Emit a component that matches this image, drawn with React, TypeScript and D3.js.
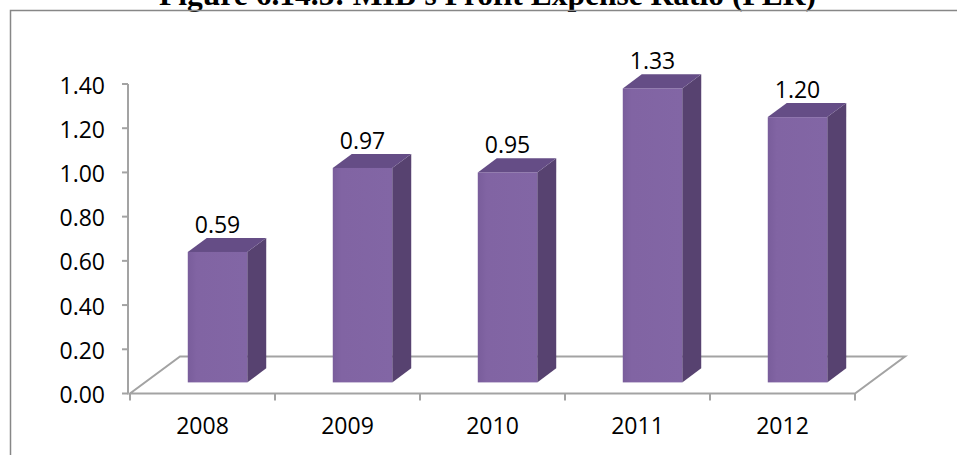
import React from "react";
import * as d3 from "d3";

const title = "Figure 6.14.5: MIB's Profit Expense Ratio (PER)";
const years = ["2008", "2009", "2010", "2011", "2012"];
const values = [0.59, 0.97, 0.95, 1.33, 1.2];
const yTicks = [0, 0.2, 0.4, 0.6, 0.8, 1.0, 1.2, 1.4];

const W = 957;
const H = 455;
const FONT = "'Open Sans', Lato, sans-serif";
const FS = 23;

export default function App() {
  const x = d3
    .scaleBand<string>()
    .domain(years)
    .range([130, 855])
    .paddingInner(0.59)
    .paddingOuter(0.295);
  const step = x.step();
  const y = d3.scaleLinear().domain([0, 1.4]).range([393.5, 84]);

  // depth offsets for the 3D floor
  const depthX = 50;
  const depthY = -37;
  const off = (d: number) => [depthX * d, depthY * d];
  const front = 0.3;
  const back = 0.68;

  const y0 = y(0);
  const [fx, fy] = off(front);
  const [bx, by] = off(back);

  const floorPts = [
    [x.range()[0], y0],
    [x.range()[1], y0],
    [x.range()[1] + depthX, y0 + depthY],
    [x.range()[0] + depthX, y0 + depthY],
  ];

  const catTicks = d3.range(years.length + 1).map((i) => x.range()[0] + i * step);

  const gridColor = "#a3a3a3";

  return (
    <svg
      width={W}
      height={H}
      style={{ position: "absolute", left: 0, top: 0, background: "#fff" }}
    >
      <defs>
        <linearGradient id="frontGrad" x1="0" x2="1" y1="0" y2="0">
          <stop offset="0" stopColor="#795d9b" />
          <stop offset="0.15" stopColor="#8164a3" />
          <stop offset="1" stopColor="#8266a5" />
        </linearGradient>
      </defs>
      {/* title */}
      <text
        x={487.5}
        y={5}
        textAnchor="middle"
        fontFamily="'Liberation Serif', 'Times New Roman', serif"
        fontWeight="bold"
        fontSize={31.5}
        fill="#000"
      >
        {title}
      </text>
      {/* frame */}
      <path d={`M10.5,${H} V10.5 H${W}`} fill="none" stroke="#878787" strokeWidth={1.5} />

      {/* floor */}
      <path
        d={d3.line()(floorPts as [number, number][]) + "Z"}
        fill="none"
        stroke={gridColor}
        strokeWidth={2}
        strokeLinejoin="miter"
      />
      {catTicks.map((t, i) => (
        <line key={"ct" + i} x1={t} x2={t} y1={y0} y2={y0 + 7} stroke={gridColor} strokeWidth={2} />
      ))}

      {/* y axis */}
      <line x1={128} x2={128} y1={y(1.4)} y2={y0} stroke={gridColor} strokeWidth={2} />
      {yTicks.map((t) => (
        <g key={"yt" + t}>
          <line x1={122} x2={128} y1={y(t)} y2={y(t)} stroke={gridColor} strokeWidth={2} />
          <text
            x={105}
            y={y(t) + 9.5}
            textAnchor="end"
            fontFamily={FONT}
            fontSize={FS}
            fill="#000"
          >
            {t.toFixed(2)}
          </text>
        </g>
      ))}

      {/* bars */}
      {years.map((yr, i) => {
        const v = values[i];
        const x0 = (x(yr) as number) + fx;
        const x1 = x0 + x.bandwidth();
        const yb = y0 + fy;
        const yt = y(v) + fy;
        const dx = bx - fx;
        const dy = by - fy;
        const cx = (x0 + x1) / 2;
        return (
          <g key={yr}>
            {/* side */}
            <path
              d={`M${x1},${yb} L${x1 + dx},${yb + dy} L${x1 + dx},${yt + dy} L${x1},${yt} Z`}
              fill="#574270"
            />
            {/* top */}
            <path
              d={`M${x0},${yt} L${x0 + dx},${yt + dy} L${x1 + dx},${yt + dy} L${x1},${yt} Z`}
              fill="#654d86"
            />
            {/* front */}
            <rect x={x0} y={yt} width={x1 - x0} height={yb - yt} fill="url(#frontGrad)" />
            <text
              x={cx}
              y={yt + dy - 5}
              textAnchor="middle"
              fontFamily={FONT}
              fontSize={FS}
              fill="#000"
            >
              {v.toFixed(2)}
            </text>
            <text
              x={(x(yr) as number) + x.bandwidth() / 2}
              y={434}
              textAnchor="middle"
              fontFamily={FONT}
              fontSize={FS}
              fill="#000"
            >
              {yr}
            </text>
          </g>
        );
      })}
    </svg>
  );
}
